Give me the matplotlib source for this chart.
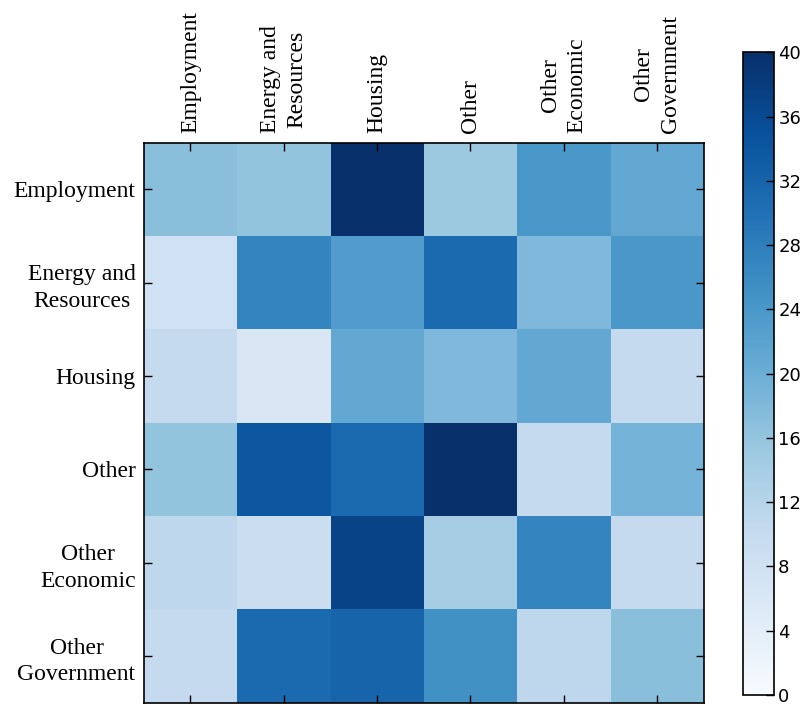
import numpy as np
import matplotlib
matplotlib.use("Agg")
import matplotlib.pyplot as plt

categories = ["Employment", "Energy and\nResources", "Housing", "Other",
              "Other\nEconomic", "Other\nGovernment"]

# rows = y categories, columns = x categories
values = np.array([
    [17, 16, 40, 15, 24, 21],
    [8, 27, 23, 31, 18, 24],
    [10, 6, 21, 18, 21, 10],
    [16, 34, 31, 40, 10, 19],
    [11, 9, 37, 14, 27, 10],
    [10, 31, 32, 25, 11, 17],
])
cbar_ticks = list(range(0, 41, 4))

fig = plt.figure(figsize=(8.08, 7.07), dpi=100)
ax = fig.add_axes([0.178, 0.006, 0.693, 0.792])
cax = fig.add_axes([0.920, 0.017, 0.038, 0.909])

im = ax.imshow(values, cmap="Blues", vmin=0, vmax=40, aspect="auto",
               interpolation="nearest")

serif = ["Liberation Serif", "DejaVu Serif"]
ax.set_xticks(range(len(categories)))
ax.set_yticks(range(len(categories)))
ax.set_xticklabels(categories, rotation=90, family=serif, fontsize=17,
                   linespacing=1.35, multialignment="center")
ax.set_yticklabels(categories, family=serif, fontsize=17, ha="right",
                   multialignment="center", linespacing=1.35)
ax.xaxis.tick_top()
ax.tick_params(direction="in", length=6, width=1, top=True, bottom=True,
               left=True, right=True, labeltop=True, labelbottom=False)
ax.tick_params(axis="x", pad=7)
ax.tick_params(axis="y", pad=6)
for s in ax.spines.values():
    s.set_linewidth(1.2)

cb = fig.colorbar(im, cax=cax, ticks=cbar_ticks)
cb.ax.tick_params(direction="in", length=6, width=1, labelsize=13, pad=3)
cb.outline.set_linewidth(1.2)

fig.savefig("out.png", dpi=100)
